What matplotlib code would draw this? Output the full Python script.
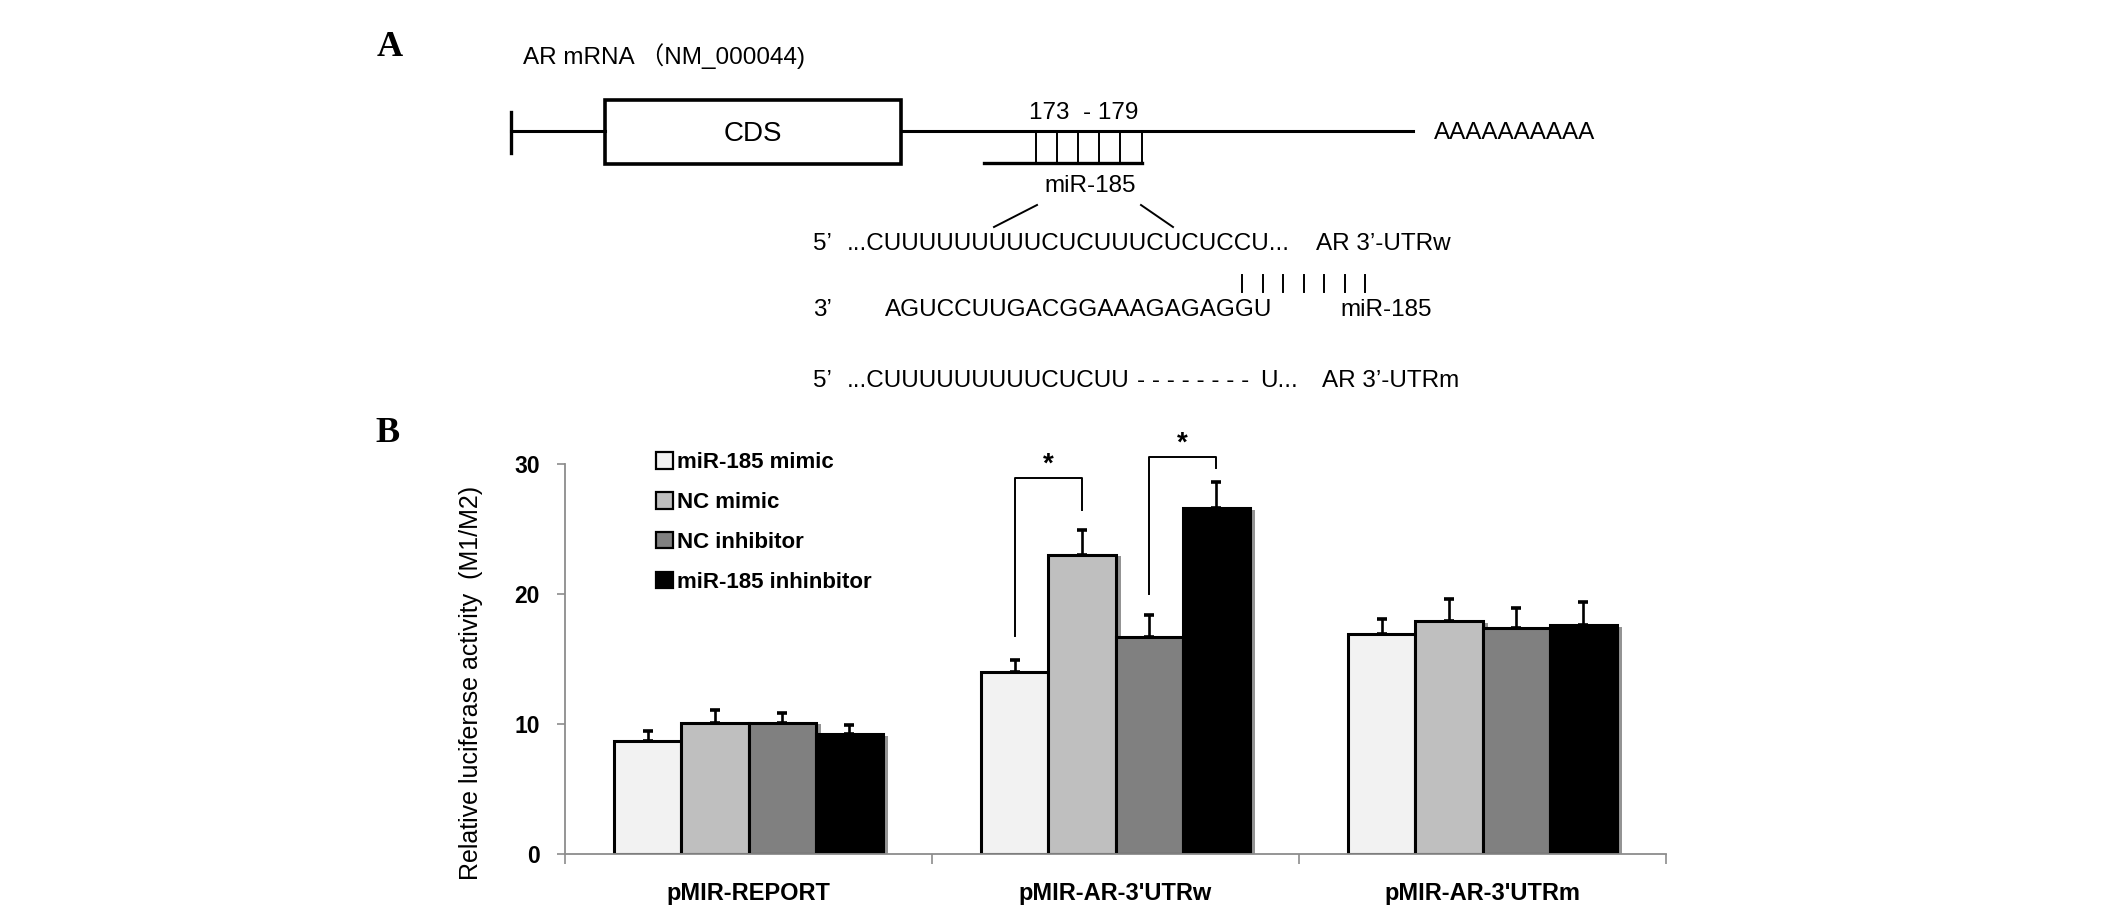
import numpy as np
import matplotlib
matplotlib.use('Agg')
import matplotlib.pyplot as plt
from matplotlib.patches import Patch, Rectangle
from matplotlib import patheffects as pe

plt.rcParams['font.family'] = ['Liberation Sans', 'Noto Sans CJK SC', 'DejaVu Sans']

# Panel B data (relative luciferase activity, M1/M2)
groups = ['pMIR-REPORT', "pMIR-AR-3'UTRw", "pMIR-AR-3'UTRm"]
treatments = ['miR-185 mimic', 'NC mimic', 'NC inhibitor', 'miR-185 inhinbitor']
mimic = [8.7, 14.0, 16.9]
nc_mimic = [10.1, 23.0, 17.9]
nc_inhib = [10.1, 16.7, 17.4]
inhib = [9.2, 26.6, 17.6]
mimic_err = [0.8, 0.95, 1.2]
nc_mimic_err = [0.95, 1.95, 1.7]
nc_inhib_err = [0.75, 1.7, 1.55]
inhib_err = [0.75, 2.0, 1.75]
yticks = [0, 10, 20, 30]

# significance brackets: group, bar a, bar b, leg a bottom, leg b bottom, top
brackets = [(1, 0, 1, 16.8, 26.5, 28.9),
            (1, 2, 3, 20.0, 29.7, 30.55)]

colors = ['#f2f2f2', '#bfbfbf', '#808080', '#000000']

W, H = 2126, 919
fig = plt.figure(figsize=(W / 100, H / 100), dpi=100)

# ---------- panel A: drawn in pixel coords ----------
ax0 = fig.add_axes([0, 0, 1, 1])
ax0.set_xlim(0, W)
ax0.set_ylim(H, 0)
ax0.axis('off')

serif = dict(family='Liberation Serif', weight='bold', fontsize=26)
ax0.text(390, 47, 'A', ha='center', va='center', **serif)
ax0.text(388, 434, 'B', ha='center', va='center', **serif)

fs = 17.5
ax0.text(523, 56, 'AR mRNA \uff08NM_000044)', ha='left', va='center', fontsize=fs)

# mRNA line with CDS box
ax0.plot([511, 511], [112, 153], color='black', lw=2.4)
ax0.plot([511, 605], [131, 131], color='black', lw=2.2)
ax0.plot([901, 1413], [131, 131], color='black', lw=2.2)
ax0.add_patch(Rectangle((605, 100), 296, 64, fill=False, ec='black', lw=2.6))
ax0.text(753, 134, 'CDS', ha='center', va='center', fontsize=20)
ax0.text(1434, 133, 'AAAAAAAAAA', ha='left', va='center', fontsize=fs)

# miR-185 binding site
ax0.plot([984, 1142], [163, 163], color='black', lw=2.4)
for hx in [1036, 1057, 1078, 1099, 1120, 1142]:
    ax0.plot([hx, hx], [132, 163], color='black', lw=1.4)
ax0.text(1084, 113, '173  - 179', ha='center', va='center', fontsize=fs)
ax0.text(1090, 186, 'miR-185', ha='center', va='center', fontsize=fs)
ax0.plot([994, 1037], [227, 205], color='black', lw=1.4)
ax0.plot([1141, 1173], [205, 227], color='black', lw=1.4)

# sequences
ax0.text(813, 244, '5\u2019', ha='left', va='center', fontsize=fs)
ax0.text(847, 244, '...CUUUUUUUUUCUCUUUCUCUCCU...', ha='left', va='center', fontsize=fs)
ax0.text(1316, 244, 'AR 3\u2019-UTRw', ha='left', va='center', fontsize=fs)
for px in np.linspace(1242, 1365, 7):
    ax0.plot([px, px], [275, 292], color='black', lw=1.4)
ax0.text(813, 310, '3\u2019', ha='left', va='center', fontsize=fs)
ax0.text(885, 310, 'AGUCCUUGACGGAAAGAGAGGU', ha='left', va='center', fontsize=fs)
ax0.text(1340, 310, 'miR-185', ha='left', va='center', fontsize=fs)
ax0.text(813, 381, '5\u2019', ha='left', va='center', fontsize=fs)
ax0.text(847, 381, '...CUUUUUUUUUCUCUU', ha='left', va='center', fontsize=fs)
ax0.text(1137, 381, '- - - - - - - -', ha='left', va='center', fontsize=fs)
ax0.text(1260, 381, 'U...', ha='left', va='center', fontsize=fs)
ax0.text(1322, 381, 'AR 3\u2019-UTRm', ha='left', va='center', fontsize=fs)

# ---------- panel B: bar chart ----------
ax = fig.add_axes([565 / W, 1 - 854 / H, (1666 - 565) / W, (854 - 464) / H])
x = np.arange(len(groups))
bw = 0.183
series = [mimic, nc_mimic, nc_inhib, inhib]
errs = [mimic_err, nc_mimic_err, nc_inhib_err, inhib_err]
shadow = [pe.SimplePatchShadow(offset=(4, -1), shadow_rgbFace='0.3', alpha=0.6), pe.Normal()]
for i, (vals, err) in enumerate(zip(series, errs)):
    pos = x + (i - 1.5) * bw
    bars = ax.bar(pos, vals, width=bw, color=colors[i], edgecolor='black', linewidth=2.2,
                  zorder=2 + i * 0.01)
    for b in bars:
        b.set_path_effects(shadow)
    ax.errorbar(pos, vals, yerr=[np.zeros(len(vals)), err], fmt='none', ecolor='black',
                elinewidth=1.9, capsize=3.5, capthick=2.6, zorder=1.5)

for g, a, b, ya, yb, top in brackets:
    xa = g + (a - 1.5) * bw
    xb = g + (b - 1.5) * bw
    ax.plot([xa, xa, xb, xb], [ya, top, top, yb], color='black', lw=1.4, clip_on=False)
    ax.text((xa + xb) / 2, top + 0.05, '*', ha='center', va='bottom', fontsize=20,
            fontweight='bold')

ax.set_xlim(-0.5, 2.5)
ax.set_ylim(0, 30)
ax.set_yticks(yticks)
ax.set_yticklabels([str(t) for t in yticks], fontsize=16.5, fontweight='bold')
ax.set_xticks([-0.5, 0.5, 1.5, 2.5])
ax.set_xticklabels([])
ax.set_xticks(x, minor=True)
ax.set_xticklabels(groups, minor=True, fontsize=17, fontweight='bold')
ax.tick_params(axis='x', which='major', length=7, width=1.2, color='#8c8c8c', direction='out')
ax.tick_params(axis='x', which='minor', length=0, pad=20)
ax.tick_params(axis='y', length=6, width=1.2, color='#8c8c8c', pad=12)
for s in ['top', 'right']:
    ax.spines[s].set_visible(False)
for s in ['left', 'bottom']:
    ax.spines[s].set_color('#8c8c8c')
    ax.spines[s].set_linewidth(1.3)

ax.set_ylabel('Relative luciferase activity  (M1/M2)', fontsize=18)
ax.yaxis.set_label_coords(-0.085, 0.438)
ax.yaxis.label.set_verticalalignment('center')

handles = [Patch(facecolor=c, edgecolor='black', linewidth=1.6) for c in colors]
ax.legend(handles, treatments, loc='upper left', bbox_to_anchor=(0.083, 1.03),
          frameon=False, handlelength=0.75, handleheight=0.75, handletextpad=0.2,
          labelspacing=0.85, borderpad=0, borderaxespad=0,
          prop={'family': 'Liberation Sans', 'weight': 'bold', 'size': 16})

fig.savefig('out.png', dpi=100)
